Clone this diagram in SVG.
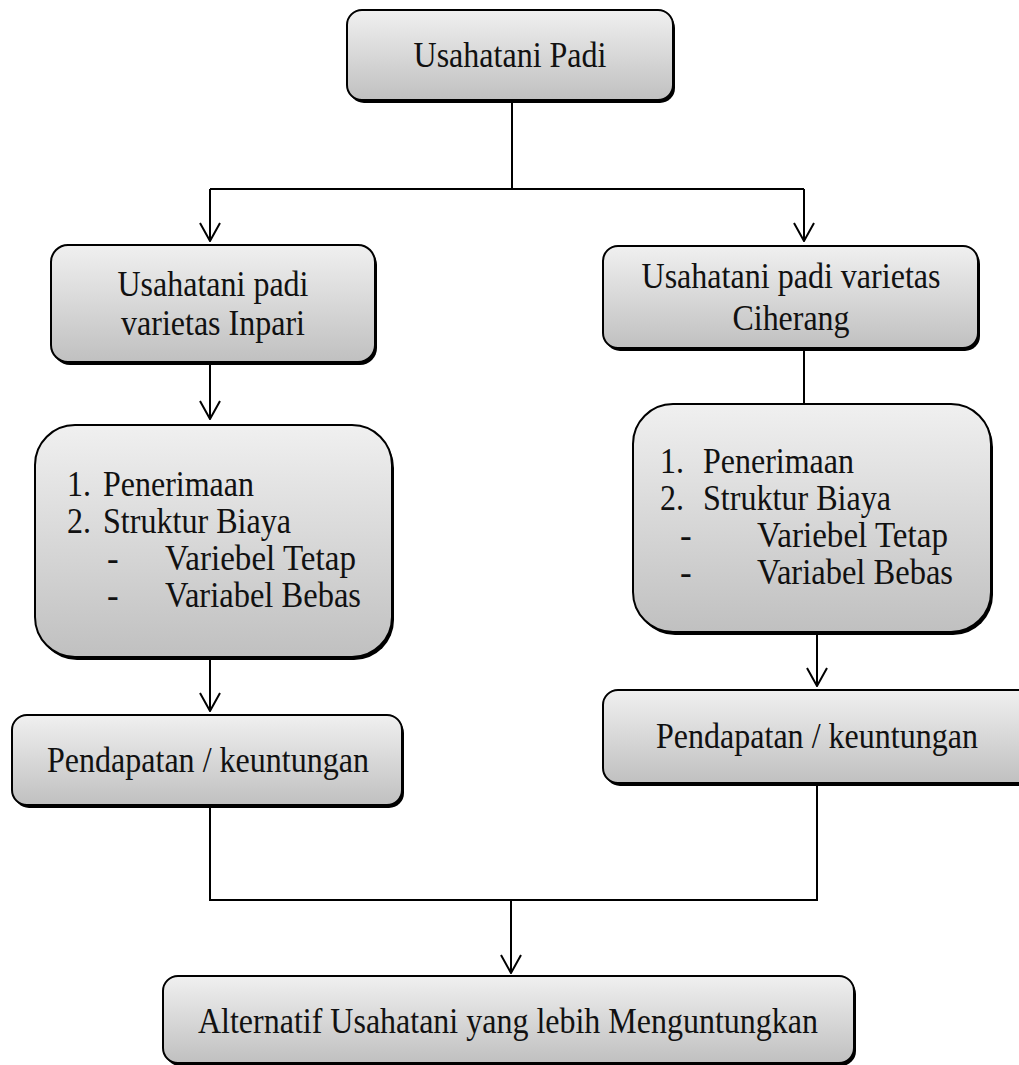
<svg xmlns="http://www.w3.org/2000/svg" width="1019" height="1065" viewBox="0 0 1019 1065">
<style>
.box{fill:url(#g);stroke:#000;stroke-width:2}
.sh{fill:#000}
.c{stroke:#000;stroke-width:2;fill:none}
</style>
<defs>
<linearGradient id="g" x1="0" y1="0" x2="0" y2="1">
<stop offset="0" stop-color="#f0f0f0"/>
<stop offset="1" stop-color="#c0c0c0"/>
</linearGradient>
<marker id="a" viewBox="0 0 20 22" refX="19" refY="11" markerWidth="20" markerHeight="22" markerUnits="userSpaceOnUse" orient="auto">
<path d="M1,1 L19,11 L1,21" fill="none" stroke="#000" stroke-width="2"/>
</marker>
</defs>
<rect width="1019" height="1065" fill="#fff"/>
<g id="connectors">
<path class="c" d="M512,101 V189"/>
<path class="c" d="M210,189 H804"/>
<path class="c" d="M210,189 V241" marker-end="url(#a)"/>
<path class="c" d="M804,189 V241" marker-end="url(#a)"/>
<path class="c" d="M210,364 V419" marker-end="url(#a)"/>
<path class="c" d="M804,350 V404"/>
<path class="c" d="M210,659 V711" marker-end="url(#a)"/>
<path class="c" d="M817,634 V686" marker-end="url(#a)"/>
<path class="c" d="M210,807 V900 H817 V785"/>
<path class="c" d="M511,900 V973" marker-end="url(#a)"/>
</g>
<g id="nodes" font-family="Liberation Serif, serif" font-size="35" fill="#111">
<g id="n1">
<rect class="sh" x="349" y="13" width="326" height="90" rx="15"/>
<rect class="box" x="347" y="10" width="326" height="90" rx="15"/>
<text x="510" y="67" text-anchor="middle" textLength="193" lengthAdjust="spacingAndGlyphs">Usahatani Padi</text>
</g>
<g id="n2">
<rect class="sh" x="53" y="248" width="324" height="117" rx="17"/>
<rect class="box" x="51" y="245" width="324" height="117" rx="17"/>
<text x="213" y="296" text-anchor="middle" textLength="191" lengthAdjust="spacingAndGlyphs">Usahatani padi</text>
<text x="213" y="335" text-anchor="middle" textLength="184" lengthAdjust="spacingAndGlyphs">varietas Inpari</text>
</g>
<g id="n3">
<rect class="sh" x="605" y="249" width="375" height="102" rx="15"/>
<rect class="box" x="603" y="246" width="375" height="102" rx="15"/>
<text x="791" y="288" text-anchor="middle" textLength="299" lengthAdjust="spacingAndGlyphs">Usahatani padi varietas</text>
<text x="791" y="330" text-anchor="middle" textLength="117" lengthAdjust="spacingAndGlyphs">Ciherang</text>
</g>
<g id="n4">
<rect class="sh" x="37" y="428" width="357" height="232" rx="40"/>
<rect class="box" x="35" y="425" width="357" height="232" rx="40"/>
<text x="67" y="496" textLength="24" lengthAdjust="spacingAndGlyphs">1.</text>
<text x="103" y="496" textLength="151" lengthAdjust="spacingAndGlyphs">Penerimaan</text>
<text x="67" y="533" textLength="24" lengthAdjust="spacingAndGlyphs">2.</text>
<text x="103" y="533" textLength="188" lengthAdjust="spacingAndGlyphs">Struktur Biaya</text>
<text x="107" y="570">-</text>
<text x="165" y="570" textLength="191" lengthAdjust="spacingAndGlyphs">Variebel Tetap</text>
<text x="107" y="607">-</text>
<text x="165" y="607" textLength="196" lengthAdjust="spacingAndGlyphs">Variabel Bebas</text>
</g>
<g id="n5">
<rect class="sh" x="635" y="407" width="358" height="228" rx="40"/>
<rect class="box" x="633" y="404" width="358" height="228" rx="40"/>
<text x="660" y="473" textLength="24" lengthAdjust="spacingAndGlyphs">1.</text>
<text x="703" y="473" textLength="151" lengthAdjust="spacingAndGlyphs">Penerimaan</text>
<text x="660" y="510" textLength="24" lengthAdjust="spacingAndGlyphs">2.</text>
<text x="703" y="510" textLength="188" lengthAdjust="spacingAndGlyphs">Struktur Biaya</text>
<text x="680" y="547">-</text>
<text x="757" y="547" textLength="191" lengthAdjust="spacingAndGlyphs">Variebel Tetap</text>
<text x="680" y="584">-</text>
<text x="757" y="584" textLength="196" lengthAdjust="spacingAndGlyphs">Variabel Bebas</text>
</g>
<g id="n6">
<rect class="sh" x="14" y="718" width="390" height="90" rx="15"/>
<rect class="box" x="12" y="715" width="390" height="90" rx="15"/>
<text x="208" y="772" text-anchor="middle" textLength="322" lengthAdjust="spacingAndGlyphs">Pendapatan / keuntungan</text>
</g>
<g id="n7">
<rect class="sh" x="605" y="693" width="430" height="93" rx="15"/>
<rect class="box" x="603" y="690" width="430" height="93" rx="15"/>
<text x="817" y="748" text-anchor="middle" textLength="322" lengthAdjust="spacingAndGlyphs">Pendapatan / keuntungan</text>
</g>
<g id="n8">
<rect class="sh" x="165" y="979" width="691" height="87" rx="15"/>
<rect class="box" x="163" y="976" width="691" height="87" rx="15"/>
<text x="508" y="1033" text-anchor="middle" textLength="620" lengthAdjust="spacingAndGlyphs">Alternatif Usahatani yang lebih Menguntungkan</text>
</g>
</g>
</svg>
